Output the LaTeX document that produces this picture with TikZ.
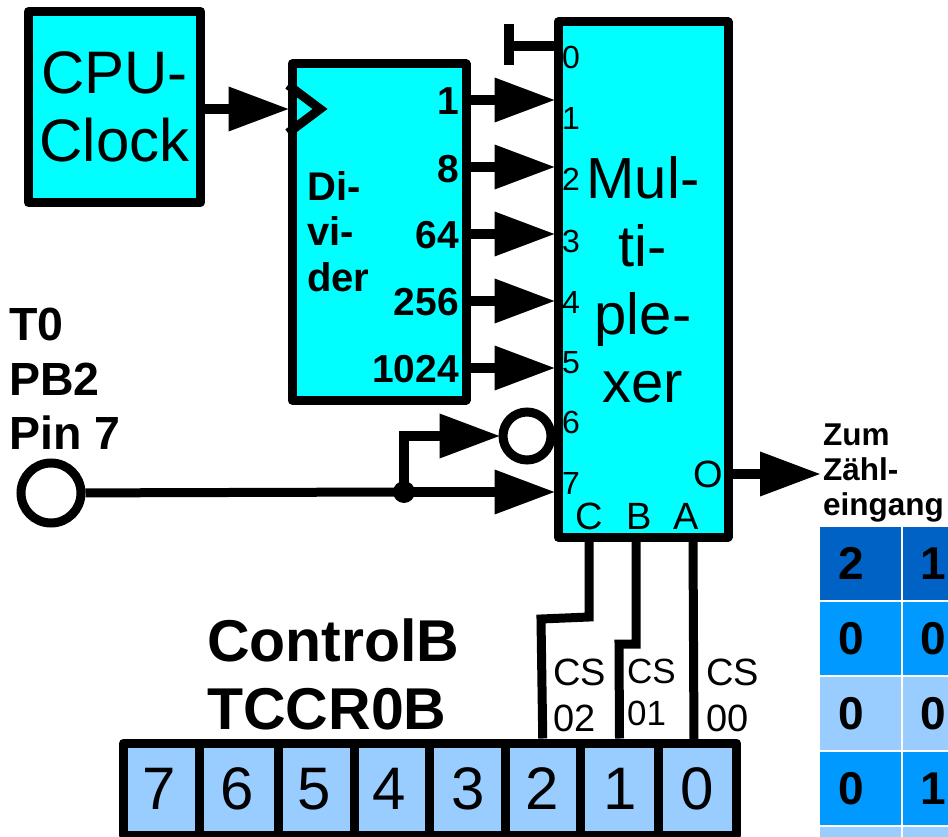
\documentclass[tikz,border=0pt]{standalone}
\usepackage{fontspec}
\setmainfont{Liberation Sans}
\usetikzlibrary{arrows.meta}
\definecolor{blockcyan}{HTML}{00FFFF}
\definecolor{regblue}{HTML}{99CCFF}
\definecolor{tabhead}{HTML}{0062C4}
\definecolor{tabrow}{HTML}{0099FF}
\newcommand{\fsize}[2]{\fontsize{#1}{#2}\selectfont}
\tikzset{
    block/.style={draw, fill=blockcyan, line width=9pt, line join=round, inner sep=0pt},
    sig/.style={line width=10pt, shorten >=-2pt, -{Triangle[length=61pt,width=42pt]}},
    wire/.style={line width=9pt},
    pinlabel/.style={font=\fsize{32}{32}, inner sep=0pt, anchor=base west},
    sellabel/.style={font=\fsize{38}{38}, inner sep=0pt, anchor=base},
    divlabel/.style={font=\fsize{39}{39}\bfseries, inner sep=0pt, anchor=base east},
    regcell/.style={draw, fill=regblue, line width=9pt, line join=round, inner sep=0pt, minimum height=92pt},
    regdigit/.style={font=\fsize{60}{60}, inner sep=0pt, anchor=base},
    csname/.style={inner sep=0pt, anchor=north west, align=left},
    tabdigit/.style={font=\fsize{46}{46}\bfseries, inner sep=0pt}
}
\begin{document}
\begin{tikzpicture}[x=1pt,y=-1pt]
    \useasboundingbox (0,0) rectangle (948,837);
    \node[block, minimum width=172pt, minimum height=191pt, font=\fsize{60}{68}, align=center] (clock) at (114.5,107) {CPU-\\Clock};
    \node[block, minimum width=174pt, minimum height=336pt] (div) at (379,232) {};
    \node[block, minimum width=170pt, minimum height=515pt, font=\fsize{58}{68}, align=center] (mux) at (643,279.5) {Mul-\\ti-\\ple-\\xer};
    \node[inner sep=0pt, anchor=north west, align=left, font=\fsize{40}{45.5}\bfseries] (divname) at (307,171) {Di-\\vi-\\der};
    \draw[sig] (clock.east |- 0,109) -- (div.west |- 0,109);
    \coordinate (clkA) at (288,85);
    \coordinate (clkB) at (320,109);
    \coordinate (clkC) at (288,133);
    \draw[wire] (clkA) -- (clkB) -- (clkC);
    \foreach \name/\ypos/\ybase in {1/100/115, 8/167/183, 64/234/248, 256/301/316, 1024/368/382} {
        \draw[sig] (div.east |- 0,\ypos) -- (mux.west |- 0,\ypos);
        \node[divlabel] (div\name) at (459,\ybase) {\name};
    }
    \coordinate (gndtop) at (509,24);
    \coordinate (gndbot) at (509,65);
    \draw[line width=10pt] (gndtop) -- (gndbot);
    \draw[line width=10pt] (mux.west |- 0,46) -- (gndtop |- 0,46);
    \foreach \pin/\ybase in {0/69, 1/130, 2/191, 3/252, 4/313, 5/373, 6/433, 7/494} {
        \node[pinlabel] (in\pin) at (562,\ybase) {\pin};
    }
    \node[sellabel] (selC) at (589,529) {C};
    \node[sellabel] (selB) at (639,529) {B};
    \node[sellabel] (selA) at (686,529) {A};
    \node[sellabel] (selO) at (708,487) {O};
    \node[draw, fill=white, circle, line width=9pt, minimum size=60pt, inner sep=0pt] (pin) at (51,493) {};
    \node[fill=black, circle, minimum size=22pt, inner sep=0pt] (junc) at (404,492) {};
    \node[draw, fill=white, circle, line width=9pt, minimum size=48pt, inner sep=0pt] (inv) at (527,436) {};
    \node[inner sep=0pt, anchor=north west, align=left, font=\fsize{46.5}{54.5}\bfseries] (t0name) at (9,308) {T0\\PB2\\Pin 7};
    \draw[wire] (pin) -- (junc.center);
    \draw[sig] (junc.center) -- (mux.west |- junc);
    \draw[sig] (junc.center) |- (inv);
    \draw[sig] (mux.east |- 0,474) -- (819,474);
    \node[inner sep=0pt, anchor=north west, align=left, font=\fsize{31.5}{35}\bfseries] (zum) at (823,424) {Zum\\Zähl-\\eingang};
    \node[inner sep=0pt, anchor=north west, align=left, font=\fsize{59}{68}\bfseries] (regname) at (207,619) {ControlB\\TCCR0B};
    \foreach \bit/\xa/\xb/\xc in {7/123.5/199.5/159, 6/199.5/278.5/237, 5/278.5/354/314, 4/354/429.5/389, 3/429.5/505/468, 2/505/580.5/542, 1/580.5/658.5/620, 0/658.5/736.5/697} {
        \pgfmathsetmacro{\xw}{\xb-\xa}
        \pgfmathsetmacro{\xm}{(\xa+\xb)/2}
        \node[regcell, minimum width=\xw pt] (bit\bit) at (\xm,789) {};
        \node[regdigit] (dig\bit) at (\xc,809) {\bit};
    }
    \draw[wire] (selC |- mux.south) ++(0,-4) -- (589,617) -- (541,619) -- (bit2.north);
    \draw[wire] (636,540) -- (636,644) -- (619,644) -- (bit1.north);
    \draw[wire] (693,540) -- (694,745);
    \node[csname, font=\fsize{38}{46}] (cs02) at (553,658.5) {CS\\02};
    \node[csname, font=\fsize{35}{42}] (cs01) at (627,659) {CS\\01};
    \node[csname, font=\fsize{38}{46}] (cs00) at (706,658.5) {CS\\00};
    \foreach \ya/\yb/\col/\ltxt/\rtxt in {527/600/tabhead/2/1, 602/675/tabrow/0/0, 677/750/regblue/0/0, 752/825/tabrow/0/1, 827/837/regblue//} {
        \fill[\col] (820,\ya) rectangle (901,\yb);
        \fill[\col] (903,\ya) rectangle (948,\yb);
        \node[tabdigit] at (851,{(\ya+\yb)/2}) {\ltxt};
        \node[tabdigit] at (933,{(\ya+\yb)/2}) {\rtxt};
    }
\end{tikzpicture}
\end{document}
